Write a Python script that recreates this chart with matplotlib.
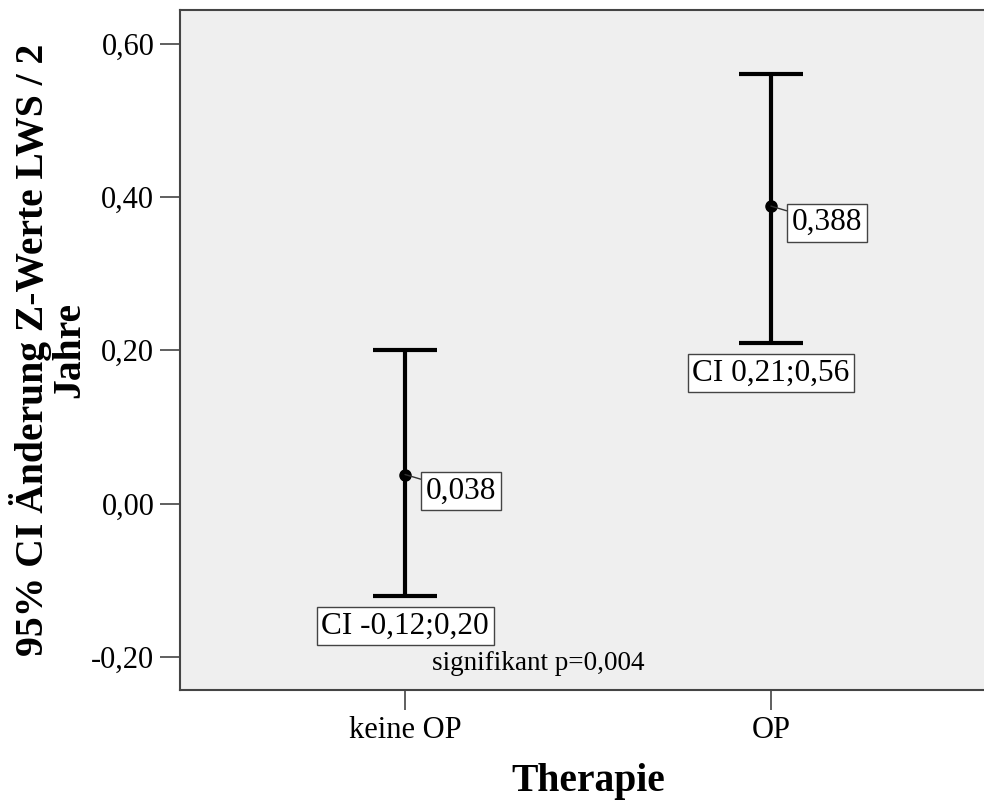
import matplotlib
matplotlib.use("Agg")
import matplotlib.pyplot as plt

# Data
groups = ["keine OP", "OP"]
means = [0.038, 0.388]
ci_low = [-0.12, 0.21]
ci_high = [0.20, 0.56]
mean_labels = ["0,038", "0,388"]
ci_labels = ["CI -0,12;0,20", "CI 0,21;0,56"]
y_ticks = [-0.20, 0.00, 0.20, 0.40, 0.60]
y_tick_labels = ["-0,20", "0,00", "0,20", "0,40", "0,60"]
note = "signifikant p=0,004"

plt.rcParams["font.family"] = ["Liberation Serif", "DejaVu Serif"]

fig = plt.figure(figsize=(9.84, 8.01), dpi=100)
ax = fig.add_axes([180 / 984, 111 / 801, 816 / 984, 680 / 801])
ax.set_facecolor("#efefef")

x = list(range(len(groups)))
yerr = [[m - lo for m, lo in zip(means, ci_low)],
        [hi - m for m, hi in zip(means, ci_high)]]
ax.errorbar(x, means, yerr=yerr, fmt="o", color="black", ms=8,
            elinewidth=3, capsize=23, capthick=3, zorder=3)

box = dict(boxstyle="square,pad=0.15", fc="white", ec="#444444", lw=1)
for xi, m, lab in zip(x, means, mean_labels):
    ax.annotate(lab, xy=(xi, m), xytext=(15, -12), textcoords="offset points",
                ha="left", va="center", fontsize=22.5, bbox=box,
                arrowprops=dict(arrowstyle="-", color="#333333", lw=1,
                                shrinkA=0, shrinkB=0), zorder=4)
for xi, lo, lab in zip(x, ci_low, ci_labels):
    ax.annotate(lab, xy=(xi, lo), xytext=(0, -22), textcoords="offset points",
                ha="center", va="center", fontsize=22.5, bbox=box, zorder=4)

ax.text(0.363, -0.209, note, ha="center", va="center", fontsize=19.5)

ax.set_xlim(-0.615, 1.615)
ax.set_ylim(-0.243, 0.6437)
ax.set_xticks(x)
ax.set_xticklabels(groups, fontsize=22)
ax.set_yticks(y_ticks)
ax.set_yticklabels(y_tick_labels, fontsize=22)
ax.tick_params(axis="both", length=14.5, width=1.2, color="#444444", pad=4)

for side in ["left", "bottom", "top"]:
    ax.spines[side].set_color("#444444")
    ax.spines[side].set_linewidth(1.5)
ax.spines["right"].set_visible(False)

ax.set_xlabel("Therapie", fontsize=28.5, fontweight="bold", labelpad=13)
ax.set_ylabel("95% CI Änderung Z-Werte LWS / 2\nJahre", fontsize=28.5,
              fontweight="bold", linespacing=0.97, labelpad=2)

fig.savefig("out.png", dpi=100)
